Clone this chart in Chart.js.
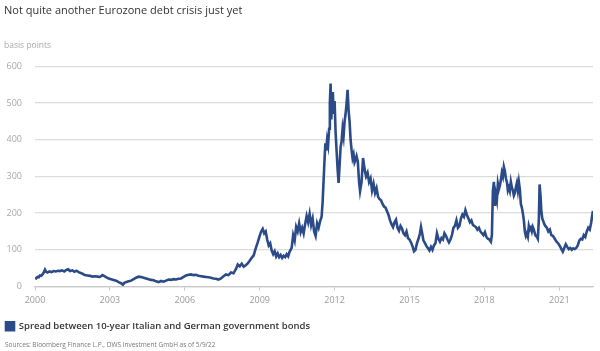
<!DOCTYPE html>
<html>
<head>
<meta charset="utf-8">
<script src="https://cdn.jsdelivr.net/npm/chart.js@4.4.1/dist/chart.umd.min.js"></script>
<style>
  html, body { margin: 0; padding: 0; background: #fff; }
  #wrap { position: relative; width: 600px; height: 351px; }
  #source { position: absolute; left: 5px; top: 340px; font-family: "Open Sans", sans-serif; font-size: 6.5px; color: #777; white-space: nowrap; }
</style>
</head>
<body>
<div id="wrap">
  <canvas id="c" width="600" height="351"></canvas>
  <div id="source">Sources: Bloomberg Finance L.P., DWS Investment GmbH as of 5/9/22</div>
</div>
<script>
const titleText = "Not quite another Eurozone debt crisis just yet";
const unitText = "basis points";
const seriesName = "Spread between 10-year Italian and German government bonds";
const xTickYears = [2000, 2003, 2006, 2009, 2012, 2015, 2018, 2021];
const yTickValues = [0, 100, 200, 300, 400, 500, 600];

const dates = [
2000.00,2000.05,2000.10,2000.15,2000.20,2000.25,2000.30,2000.35,2000.40,2000.45,2000.50,2000.58,2000.66,2000.75,2000.83,2000.92,
2001.00,2001.08,2001.17,2001.25,2001.33,2001.40,2001.50,2001.58,2001.66,2001.75,2001.83,2001.92,
2002.00,2002.10,2002.20,2002.30,2002.40,2002.50,2002.60,2002.70,2002.78,2002.86,2002.95,
2003.05,2003.15,2003.25,2003.35,2003.45,2003.52,2003.58,2003.66,2003.75,2003.85,2003.95,
2004.05,2004.15,2004.25,2004.35,2004.45,2004.55,2004.65,2004.75,2004.85,2004.95,
2005.05,2005.15,2005.25,2005.35,2005.45,2005.55,2005.65,2005.75,2005.85,2005.95,
2006.05,2006.15,2006.25,2006.35,2006.45,2006.55,2006.65,2006.75,2006.85,2006.95,
2007.05,2007.15,2007.25,2007.35,2007.45,2007.55,2007.65,2007.75,2007.85,2007.95,
2008.05,2008.12,2008.20,2008.28,2008.36,2008.44,2008.52,2008.60,2008.68,2008.76,2008.84,2008.92,
2009.00,2009.06,2009.12,2009.18,2009.24,2009.30,2009.36,2009.42,2009.48,2009.54,2009.60,2009.66,2009.72,2009.78,2009.84,2009.90,2009.96,
2010.02,2010.08,2010.14,2010.20,2010.28,2010.34,2010.40,2010.46,2010.52,2010.58,2010.64,2010.70,2010.76,2010.82,2010.88,2010.94,
2011.00,2011.06,2011.12,2011.18,2011.24,2011.30,2011.36,2011.42,2011.48,2011.52,2011.56,2011.60,2011.63,2011.66,2011.70,2011.74,2011.78,2011.81,2011.84,2011.87,2011.90,2011.93,2011.96,
2012.00,2012.04,2012.08,2012.12,2012.16,2012.20,2012.24,2012.28,2012.32,2012.36,2012.40,2012.44,2012.48,2012.52,2012.56,2012.60,2012.64,2012.68,2012.72,2012.76,2012.80,2012.84,2012.88,2012.93,2012.98,
2013.02,2013.08,2013.14,2013.20,2013.26,2013.32,2013.38,2013.44,2013.50,2013.56,2013.62,2013.68,2013.74,2013.80,2013.86,2013.92,2013.98,
2014.04,2014.10,2014.16,2014.22,2014.28,2014.34,2014.40,2014.46,2014.52,2014.58,2014.64,2014.70,2014.76,2014.82,2014.88,2014.94,
2015.00,2015.06,2015.12,2015.18,2015.24,2015.30,2015.36,2015.42,2015.46,2015.50,2015.56,2015.62,2015.68,2015.74,2015.80,2015.86,2015.92,2015.98,
2016.04,2016.10,2016.16,2016.22,2016.28,2016.34,2016.40,2016.46,2016.52,2016.58,2016.64,2016.70,2016.76,2016.82,2016.88,2016.94,
2017.00,2017.06,2017.12,2017.18,2017.24,2017.30,2017.36,2017.42,2017.48,2017.54,2017.60,2017.66,2017.72,2017.78,2017.84,2017.90,2017.96,
2018.02,2018.08,2018.14,2018.20,2018.26,2018.30,2018.34,2018.38,2018.42,2018.46,2018.50,2018.54,2018.58,2018.62,2018.66,2018.70,2018.74,2018.78,2018.82,2018.86,2018.90,2018.94,2018.98,
2019.02,2019.06,2019.10,2019.14,2019.18,2019.22,2019.26,2019.30,2019.34,2019.38,2019.42,2019.46,2019.50,2019.54,2019.58,2019.62,2019.66,2019.70,2019.74,2019.78,2019.82,2019.86,2019.90,2019.94,2019.98,
2020.04,2020.10,2020.14,2020.18,2020.21,2020.25,2020.28,2020.32,2020.36,2020.40,2020.44,2020.50,2020.56,2020.62,2020.68,2020.74,2020.80,2020.86,2020.92,2020.98,
2021.04,2021.10,2021.14,2021.20,2021.26,2021.32,2021.38,2021.44,2021.50,2021.56,2021.62,2021.68,2021.74,2021.80,2021.86,2021.92,2021.98,
2022.04,2022.10,2022.16,2022.22,2022.28,2022.32,2022.35
];

const spread = [
24,22,26,25,30,29,33,38,46,40,38,41,39,42,41,43,
42,44,41,45,47,42,44,40,43,39,37,34,
31,30,29,27,28,27,26,31,28,25,22,
20,18,16,12,9,5,10,12,14,16,20,
24,27,26,24,22,20,18,17,14,12,
15,13,16,19,18,20,19,21,22,26,
30,32,33,31,32,29,28,27,26,25,
24,22,21,19,22,28,33,31,38,36,
48,60,55,62,54,58,63,70,78,85,104,120,
138,150,157,145,150,128,112,118,98,88,96,82,90,80,86,78,84,
80,88,82,95,105,140,125,162,150,172,148,160,145,170,192,175,
198,168,185,150,138,172,160,178,190,230,290,350,390,370,400,385,430,500,553,455,520,530,470,
505,420,370,320,282,330,380,395,430,410,450,470,500,536,480,450,400,372,350,360,338,345,355,340,285,
260,285,350,320,300,310,285,295,262,280,255,268,245,238,235,225,218,
215,205,195,180,170,162,175,182,160,152,165,158,145,140,150,132,
128,120,110,96,100,118,130,145,162,148,125,118,110,104,98,108,100,112,
118,145,130,122,132,128,145,138,128,120,128,140,160,165,180,160,
165,185,196,190,208,195,185,175,180,168,165,162,155,160,150,145,140,
148,135,130,128,122,140,260,285,220,250,235,280,265,275,290,310,300,326,315,295,285,262,270,
260,285,270,262,248,255,270,282,262,285,265,225,215,200,180,150,138,145,136,165,155,160,150,162,155,
140,135,130,180,278,245,205,185,178,170,165,160,150,155,140,138,132,125,120,115,
108,100,95,105,115,108,102,105,100,104,102,105,112,125,130,128,140,
135,150,160,155,175,195,206
];

const points = dates.map((d, i) => ({ x: d, y: spread[i] }));
const FONT = "'Open Sans', sans-serif";

new Chart(document.getElementById('c'), {
  type: 'line',
  data: {
    datasets: [{
      label: seriesName,
      data: points,
      borderColor: '#2b4b88',
      backgroundColor: '#2b4b88',
      borderWidth: 2.6,
      pointRadius: 0,
      tension: 0,
      fill: false
    }]
  },
  options: {
    responsive: false,
    animation: false,
    layout: { padding: { left: 4, right: 7, top: 0, bottom: 10 } },
    plugins: {
      title: {
        display: true, text: titleText, align: 'start', color: '#333',
        font: { family: FONT, size: 11, weight: 'normal' },
        padding: { top: 4.4, bottom: 22.5 }
      },
      subtitle: {
        display: true, text: unitText, align: 'start', color: '#a8a8a8',
        font: { family: FONT, size: 8.5, weight: 'normal' },
        padding: { top: 0, bottom: 16 }
      },
      legend: {
        display: true, position: 'bottom', align: 'start',
        labels: {
          boxWidth: 8, boxHeight: 8, padding: 2, color: '#333',
          font: { family: FONT, size: 9.5, weight: '600' }
        }
      },
      tooltip: { enabled: false }
    },
    scales: {
      x: {
        type: 'linear',
        min: 2000, max: 2022.35,
        afterBuildTicks: (s) => { s.ticks = xTickYears.map(v => ({ value: v })); },
        afterFit: (s) => { s.height = 33; },
        ticks: { color: '#9a9a9a', font: { family: FONT, size: 9 }, padding: 5, maxRotation: 0,
                 callback: (v) => String(v) },
        grid: { drawOnChartArea: false, drawTicks: true, tickLength: 4, color: '#c8c8c8', lineWidth: 1 },
        border: { display: true, color: '#c8c8c8', width: 1.2 }
      },
      y: {
        min: 0, max: 600,
        afterBuildTicks: (s) => { s.ticks = yTickValues.map(v => ({ value: v })); },
        afterFit: (s) => { s.width = 31; },
        ticks: { color: '#a8a8a8', font: { family: FONT, size: 9 }, padding: 13 },
        grid: { drawTicks: false, color: '#dcdcdc', lineWidth: 1.3 },
        border: { display: false }
      }
    }
  }
});
</script>
</body>
</html>
